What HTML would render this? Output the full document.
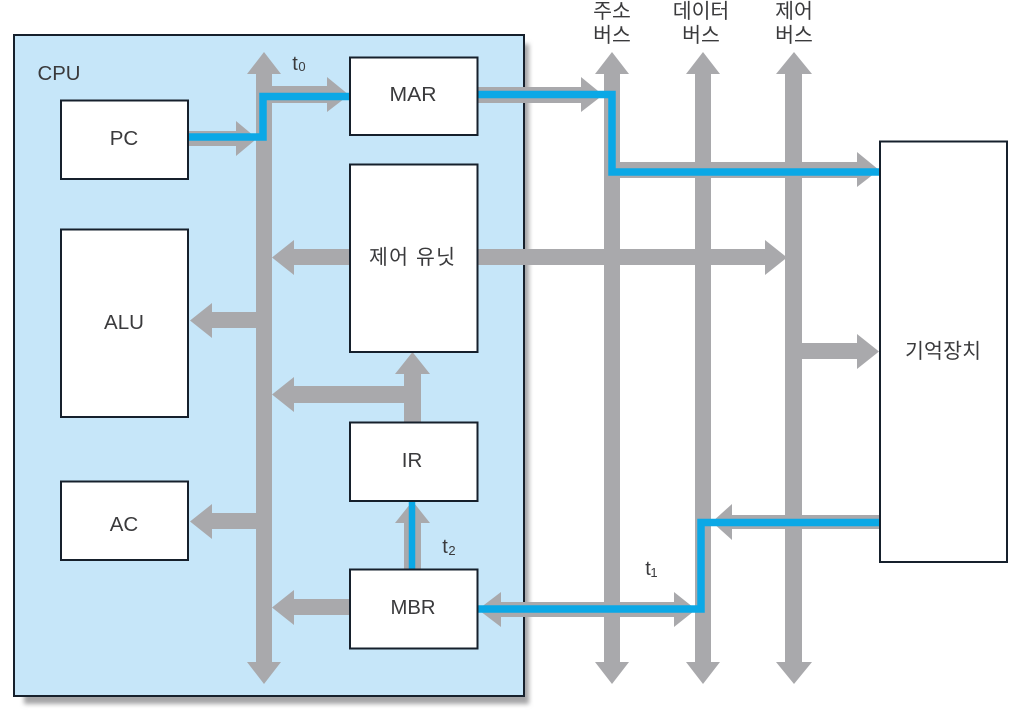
<!DOCTYPE html>
<html><head><meta charset="utf-8">
<style>
html,body{margin:0;padding:0;background:#fff;width:1024px;height:722px;overflow:hidden}
svg{display:block}
text{font-family:"Liberation Sans","Noto Sans CJK KR",sans-serif;fill:#3a3a3c;text-anchor:middle}
</style></head><body>
<svg width="1024" height="722" viewBox="0 0 1024 722" xmlns="http://www.w3.org/2000/svg">
<defs><filter id="b" x="-5%" y="-5%" width="110%" height="110%"><feGaussianBlur stdDeviation="2.5"/></filter></defs>
<rect x="24" y="44" width="505" height="660" fill="#a4a4a6" filter="url(#b)"/>
<rect x="14" y="35" width="510" height="661" fill="#c6e6f9" stroke="#16202c" stroke-width="2"/>

<g fill="#a9a9ac">
<!-- vertical buses -->
<path d="M264 52L281 74H272V662H281L264 684L247 662H256V74H247Z"/>
<path d="M612 52L629 74H620V662H629L612 684L595 662H604V74H595Z"/>
<path d="M703 52L720 74H711V662H720L703 684L686 662H695V74H686Z"/>
<path d="M794 52L812 74H802V662H812L794 684L776 662H785V74H776Z"/>
<!-- PC to bus -->
<path d="M188 131H236V121L257 138.500L236 156V146H188Z"/>
<!-- bus to MAR -->
<path d="M264 86H327V77L349 95L327 112V103H264Z"/>
<!-- MAR to address bus -->
<path d="M478 87H581V77L603 95L581 112V103H478Z"/>
<!-- address bus to memory -->
<path d="M612 162H857V152L879 170L857 187V178H612Z"/>
<!-- control unit -->
<path d="M349 249H294V240L272 257.500L294 275V265H349Z"/>
<path d="M478 249H765V240L787 257.500L765 275V265H478Z"/>
<!-- bus to ALU -->
<path d="M260 312H212V303L190 320.500L212 338V328H260Z"/>
<!-- bus to AC -->
<path d="M260 513H212V504L190 521.500L212 539V529H260Z"/>
<!-- IR to control & bus -->
<path d="M421 422V374H430L412.500 352L395 374H404V386H294V377L272 394.500L294 412V403H404V422Z"/>
<!-- MBR to IR -->
<path d="M421 569V523H430L412.500 501L395 523H404V569Z"/>
<!-- MBR to bus -->
<path d="M349 599H294V590L272 607.500L294 625V615H349Z"/>
<!-- MBR to data bus -->
<path d="M478 609.500L501 592V602H674V592L696 609.500L674 627V617H501V627Z"/>
<!-- control bus to memory -->
<path d="M800 343H857V334L879 351.500L857 369V359H800Z"/>
<!-- memory to data bus -->
<path d="M879 515H732V504L712 522L732 540V529H879Z"/>
</g>

<g fill="none" stroke="#0ba8e6" stroke-width="7.500">
<path d="M188 137H263V96.500H349"/>
<path d="M478 94.500H612V172H879"/>
<path d="M478 609H701V522.500H879"/>
<path d="M412 501V569" stroke-width="6.500"/>
</g>

<g fill="#fff" stroke="#16202c" stroke-width="2">
<rect x="61" y="100.500" width="127" height="78.500"/>
<rect x="61" y="229.500" width="127" height="187.500"/>
<rect x="61" y="481.500" width="127" height="78.500"/>
<rect x="350" y="57.500" width="127.500" height="77.500"/>
<rect x="350" y="164.500" width="127.500" height="187.500"/>
<rect x="350" y="422.500" width="127.500" height="78.500"/>
<rect x="350" y="569.500" width="127.500" height="79"/>
<rect x="880" y="141.500" width="127" height="420.500"/>
</g>

<g font-size="20.500">
<text x="59" y="80" textLength="43" lengthAdjust="spacingAndGlyphs">CPU</text>
<text x="124" y="145">PC</text>
<text x="124" y="329">ALU</text>
<text x="124" y="531">AC</text>
<text x="413" y="101" textLength="47" lengthAdjust="spacingAndGlyphs">MAR</text>
<text x="412" y="467">IR</text>
<text x="413" y="614" textLength="45" lengthAdjust="spacingAndGlyphs">MBR</text>
<text x="412" y="264" textLength="86" lengthAdjust="spacing">제어 유닛</text>
<text x="943" y="358" textLength="76" lengthAdjust="spacing">기억장치</text>
<text x="612" y="18">주소</text>
<text x="612" y="42">버스</text>
<text x="701" y="18">데이터</text>
<text x="701" y="42">버스</text>
<text x="794" y="18">제어</text>
<text x="794" y="42">버스</text>
</g>

<g font-size="20">
<text x="295" y="70">t</text>
<text x="445" y="553">t</text>
<text x="648" y="575">t</text>
</g>
<g font-size="13">
<text x="302" y="71">0</text>
<text x="452" y="555">2</text>
<text x="654" y="577">1</text>
</g>
</svg>
</body></html>
